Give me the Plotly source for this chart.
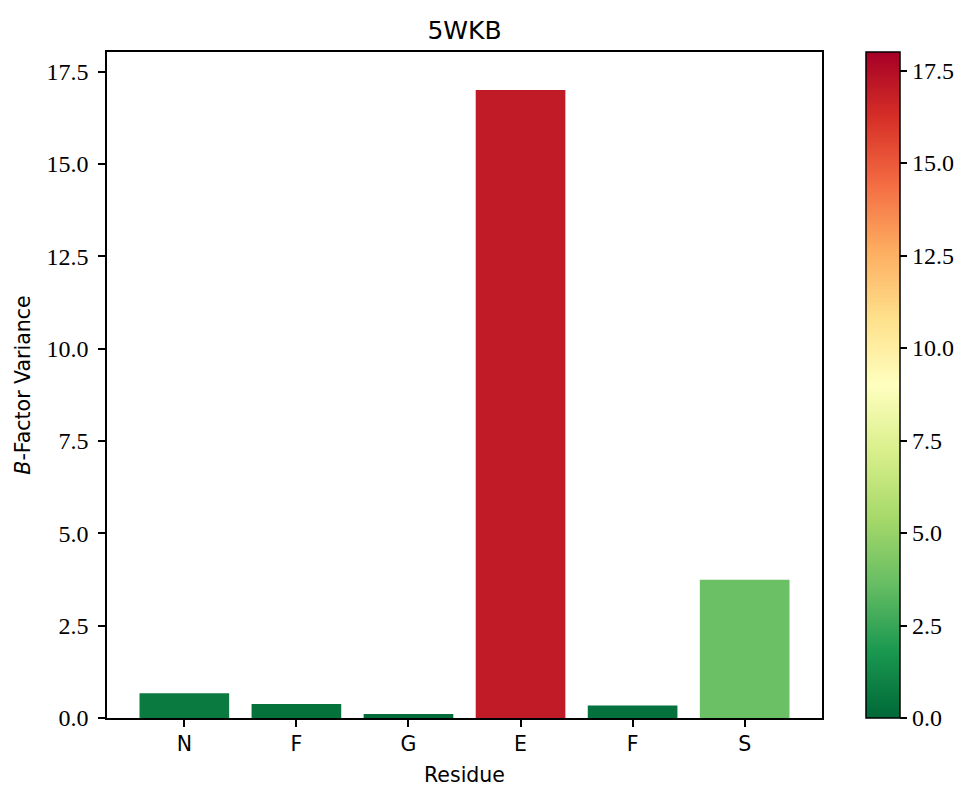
import plotly.graph_objects as go

# Per-residue B-factor variance for 5WKB
residues = ["N", "F", "G", "E", "F", "S"]
variance = [0.67, 0.38, 0.11, 17.0, 0.34, 3.74]
positions = list(range(len(residues)))
cbar_ticks = [0.0, 2.5, 5.0, 7.5, 10.0, 12.5, 15.0, 17.5]
cmin, cmax = 0.0, 18.0

serif = "Liberation Serif, DejaVu Serif, serif"
sans = "DejaVu Sans, Open Sans, sans-serif"
num_size = 24
label_size = 20.5

fig = go.Figure(
    go.Bar(
        x=positions,
        y=variance,
        width=0.8,
        marker=dict(
            color=variance,
            colorscale="RdYlGn_r",
            cmin=cmin,
            cmax=cmax,
            line=dict(width=0),
            showscale=True,
            colorbar=dict(
                x=(866 - 107) / 715,
                xanchor="left",
                y=0.5,
                yanchor="middle",
                len=1.0,
                lenmode="fraction",
                thickness=34,
                thicknessmode="pixels",
                outlinewidth=1.5,
                outlinecolor="black",
                ticks="outside",
                ticklen=7,
                tickwidth=1.5,
                tickcolor="black",
                tickvals=cbar_ticks,
                ticktext=[f"{v:.1f}" for v in cbar_ticks],
                tickfont=dict(family=serif, size=num_size, color="black"),
                xpad=0,
                ypad=0,
            ),
        ),
        hoverinfo="x+y",
    )
)

fig.update_layout(
    width=964,
    height=789,
    margin=dict(l=107, r=142, t=52, b=71, autoexpand=False),
    paper_bgcolor="white",
    plot_bgcolor="white",
    showlegend=False,
    title=dict(
        text="5WKB",
        x=(107 + 822) / 2 / 964,
        xanchor="center",
        y=1 - 30 / 789,
        yanchor="middle",
        font=dict(family=sans, size=25, color="black"),
    ),
    xaxis=dict(
        range=[-0.69, 5.69],
        tickvals=positions,
        ticktext=residues,
        tickfont=dict(family=sans, size=label_size, color="black"),
        ticks="outside",
        ticklen=7,
        tickwidth=1.5,
        tickcolor="black",
        showline=True,
        linecolor="black",
        linewidth=1.5,
        mirror=True,
        showgrid=False,
        zeroline=False,
        title=dict(text="Residue", font=dict(family=sans, size=label_size, color="black"), standoff=12),
    ),
    yaxis=dict(
        range=[0, 18.03],
        tickvals=cbar_ticks,
        ticktext=[f"{v:.1f}" for v in cbar_ticks],
        tickfont=dict(family=serif, size=num_size, color="black"),
        ticklabelstandoff=5,
        ticks="outside",
        ticklen=7,
        tickwidth=1.5,
        tickcolor="black",
        showline=True,
        linecolor="black",
        linewidth=1.5,
        mirror=True,
        showgrid=False,
        zeroline=False,
        title=dict(
            text="<i>B</i>-Factor Variance",
            font=dict(family=sans, size=label_size, color="black"),
            standoff=10,
        ),
    ),
)

fig.write_html("out.html")
